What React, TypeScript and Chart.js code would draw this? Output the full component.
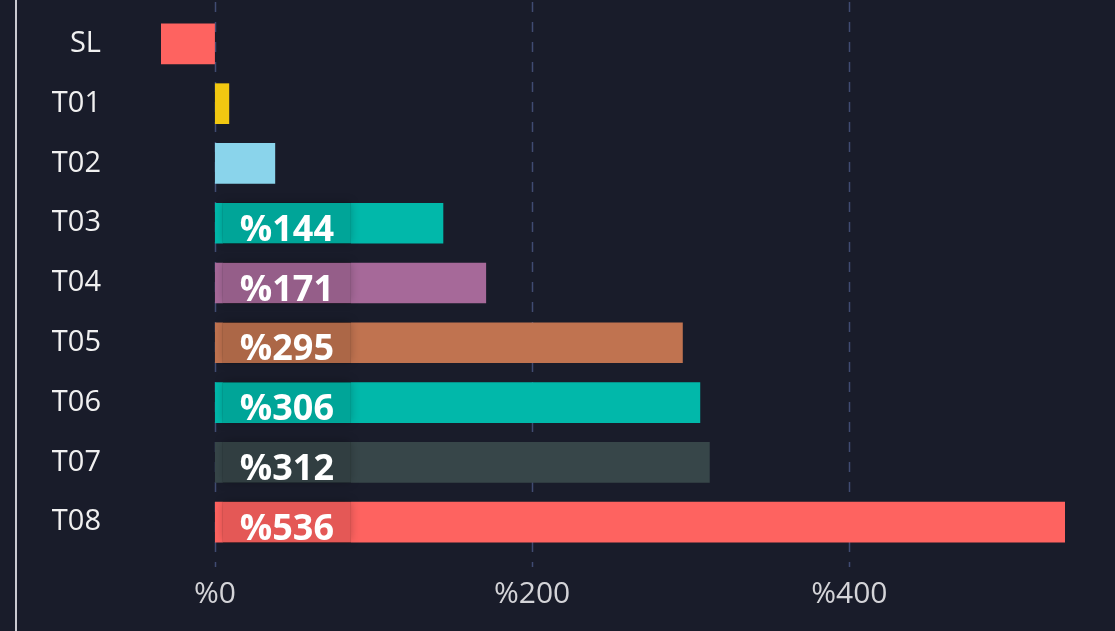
import React, { useEffect, useRef } from "react";
import { Chart, registerables } from "chart.js";

Chart.register(...registerables);

const categories = ["SL", "T01", "T02", "T03", "T04", "T05", "T06", "T07", "T08"];
const values = [-34, 9, 38, 144, 171, 295, 306, 312, 536];
const barColors = [
  "#fe6360",
  "#f2c811",
  "#8ad4eb",
  "#01b8aa",
  "#a66999",
  "#c07350",
  "#01b8aa",
  "#374649",
  "#fe6360",
];
const xTickValues = [0, 200, 400];
const valuePrefix = "%";

const BG = "#191c2a";
const FONT = "'Open Sans', 'Noto Sans', sans-serif";

const gridPlugin = {
  id: "customGrid",
  beforeDatasetsDraw(chart: any) {
    const ctx = chart.ctx;
    const xs = chart.scales.x;
    ctx.save();
    ctx.strokeStyle = "rgba(66,78,118,0.95)";
    ctx.lineWidth = 1.5;
    ctx.setLineDash([10, 10]);
    for (const v of xTickValues) {
      const px = Math.round(xs.getPixelForValue(v)) + 0.5;
      ctx.beginPath();
      ctx.moveTo(px, 2);
      ctx.lineTo(px, 567);
      ctx.stroke();
    }
    ctx.restore();
  },
};

const labelPlugin = {
  id: "valueBoxes",
  afterDatasetsDraw(chart: any) {
    const ctx = chart.ctx;
    const meta = chart.getDatasetMeta(0);
    meta.data.forEach((el: any, i: number) => {
      const { x, y, base, height } = el.getProps(["x", "y", "base", "height"], true);
      const w = x - base;
      if (w < 150) return;
      const bx = base + 8;
      const bw = 128;
      const by = y - height / 2;
      const bh = height;
      ctx.save();
      ctx.beginPath();
      ctx.rect(0, 0, chart.width, chart.height);
      ctx.rect(bx, by, bw, bh);
      ctx.clip("evenodd");
      ctx.shadowColor = "rgba(0,0,0,0.25)";
      ctx.shadowBlur = 9;
      ctx.shadowOffsetY = -1;
      ctx.fillStyle = "rgba(0,0,0,1)";
      ctx.fillRect(bx, by, bw, bh);
      ctx.restore();
      ctx.save();
      ctx.fillStyle = "rgba(0,0,0,0.1)";
      ctx.fillRect(bx, by, bw, bh);
      ctx.fillStyle = "#ffffff";
      ctx.font = `bold 36px ${FONT}`;
      ctx.textAlign = "center";
      ctx.textBaseline = "alphabetic";
      ctx.fillText(valuePrefix + values[i], bx + bw / 2, y + 17.5);
      ctx.restore();
    });
  },
};

export default function App() {
  const ref = useRef<HTMLCanvasElement | null>(null);

  useEffect(() => {
    document.body.style.margin = "0";
    document.body.style.background = BG;
    const canvas = ref.current!;
    const chart = new Chart(canvas, {
      type: "bar",
      data: {
        labels: categories,
        datasets: [
          {
            data: values,
            backgroundColor: barColors,
            borderWidth: 0,
            barPercentage: 0.68,
            categoryPercentage: 1,
          },
        ],
      },
      options: {
        indexAxis: "y",
        animation: false,
        responsive: false,
        maintainAspectRatio: false,
        layout: { padding: { top: 14, right: 50, left: 0, bottom: 0 } },
        plugins: {
          legend: { display: false },
          tooltip: { enabled: false },
        },
        scales: {
          x: {
            min: Math.min(...values),
            max: Math.max(...values),
            afterBuildTicks: (axis: any) => {
              axis.ticks = xTickValues.map((v) => ({ value: v }));
            },
            afterFit: (axis: any) => {
              axis.height = 79;
              axis.paddingLeft = 0;
              axis.paddingRight = 0;
            },
            grid: { display: false, drawTicks: false },
            border: { display: false },
            ticks: {
              color: "#d4d4d8",
              font: { family: FONT, size: 30 },
              padding: 24,
              maxRotation: 0,
              callback: (v: any) => valuePrefix + v,
            },
          },
          y: {
            afterFit: (axis: any) => {
              axis.width = 161;
              axis.paddingTop = 0;
              axis.paddingBottom = 0;
            },
            grid: { display: false, drawTicks: false, tickLength: 0 },
            border: { display: false },
            ticks: {
              color: "#f0f0f0",
              font: { family: FONT, size: 29 },
              padding: 60,
            },
          },
        },
      },
      plugins: [gridPlugin, labelPlugin],
    });
    return () => chart.destroy();
  }, []);

  return (
    <div
      style={{
        position: "fixed",
        left: 0,
        top: 0,
        width: 1115,
        height: 631,
        background: BG,
        overflow: "hidden",
      }}
    >
      <canvas ref={ref} width={1115} height={631} style={{ display: "block" }} />
      <div
        style={{
          position: "absolute",
          left: 15,
          top: 0,
          width: 2,
          height: 631,
          background: "#c9c9d0",
        }}
      />
    </div>
  );
}
